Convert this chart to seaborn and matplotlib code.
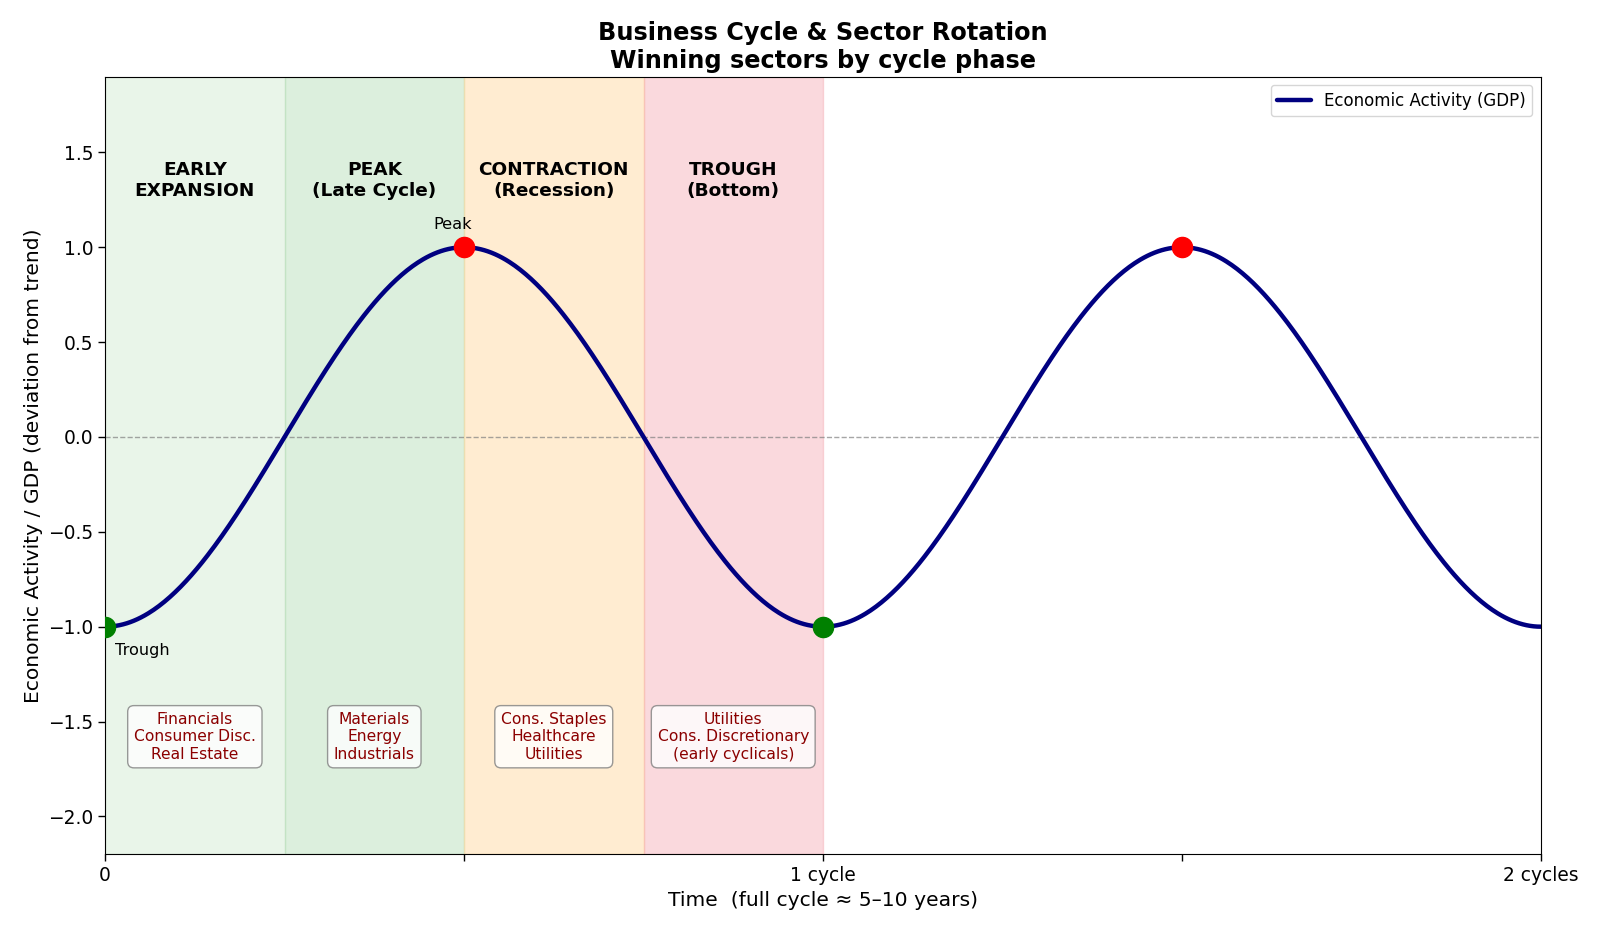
import numpy as np
import pandas as pd
import seaborn as sns
import matplotlib.pyplot as plt

# phases of one cycle (in units of pi)
phase_names = ["EARLY\nEXPANSION", "PEAK\n(Late Cycle)", "CONTRACTION\n(Recession)", "TROUGH\n(Bottom)"]
phase_start = [0.0, 0.5, 1.0, 1.5]
phase_end = [0.5, 1.0, 1.5, 2.0]
phase_colors = ["#c8e6c9", "#a5d6a7", "#ffd699", "#f4a6ae"]
phase_alpha = [0.4, 0.38, 0.45, 0.42]
sectors = ["Financials\nConsumer Disc.\nReal Estate",
           "Materials\nEnergy\nIndustrials",
           "Cons. Staples\nHealthcare\nUtilities",
           "Utilities\nCons. Discretionary\n(early cyclicals)"]

# the GDP curve: two full cycles
t = np.linspace(0, 4 * np.pi, 800)
gdp = -np.cos(t)
df = pd.DataFrame({"t": t, "gdp": gdp})

peaks_x = [np.pi, 3 * np.pi]
peaks_y = [1.0, 1.0]
troughs_x = [0.0, 2 * np.pi]
troughs_y = [-1.0, -1.0]

tick_pos = [0, np.pi, 2 * np.pi, 3 * np.pi, 4 * np.pi]
tick_lab = ["0", "", "1 cycle", "", "2 cycles"]

sns.set_style("white")
plt.rcParams["font.family"] = ["DejaVu Sans"]
plt.rcParams["text.color"] = "black"
plt.rcParams["axes.labelcolor"] = "black"
plt.rcParams["xtick.color"] = "black"
plt.rcParams["ytick.color"] = "black"
fig, ax = plt.subplots(figsize=(16, 9.33), dpi=100)

for i in range(4):
    ax.axvspan(phase_start[i] * np.pi, phase_end[i] * np.pi,
               color=phase_colors[i], alpha=phase_alpha[i], lw=1)
    mid = (phase_start[i] + phase_end[i]) / 2 * np.pi
    ax.text(mid, 1.35, phase_names[i], ha="center", va="center",
            fontsize=13.3, fontweight="bold")
    ax.text(mid, -1.58, sectors[i], ha="center", va="center",
            fontsize=11.2, color="#8b0000",
            bbox=dict(boxstyle="round,pad=0.4", fc="white", ec="gray", alpha=0.8))

ax.axhline(0, color="gray", ls="--", lw=1, alpha=0.7)
sns.lineplot(data=df, x="t", y="gdp", ax=ax, color="navy", lw=3.2,
             label="Economic Activity (GDP)")
ax.plot(peaks_x, peaks_y, "o", color="red", ms=14.5, zorder=5)
ax.plot(troughs_x, troughs_y, "o", color="green", ms=14.5, zorder=5)
ax.annotate("Peak", (np.pi, 1.0), xytext=(-8, 13), textcoords="offset points",
            ha="center", fontsize=11.6)
ax.annotate("Trough", (0, -1.0), xytext=(7, -17), textcoords="offset points",
            ha="left", va="center", fontsize=11.6)

ax.set_xlim(0, 4 * np.pi)
ax.set_ylim(-2.2, 1.9)
ax.set_xticks(tick_pos)
ax.set_xticklabels(tick_lab, fontsize=13.4)
ax.tick_params(axis="y", labelsize=13.4)
ax.tick_params(axis="both", length=5, width=1, direction="out", bottom=True, left=True)
ax.set_yticks([-2.0, -1.5, -1.0, -0.5, 0.0, 0.5, 1.0, 1.5])
ax.set_xlabel("Time  (full cycle \u2248 5\u201310 years)", fontsize=14.6)
ax.set_ylabel("Economic Activity / GDP (deviation from trend)", fontsize=14.6)
ax.set_title("Business Cycle & Sector Rotation\nWinning sectors by cycle phase",
             fontsize=17.3, fontweight="bold")
ax.legend(loc="upper right", fontsize=12)
for s in ax.spines.values():
    s.set_color("black")

fig.subplots_adjust(left=0.0657, right=0.963, top=0.918, bottom=0.0843)
plt.savefig("out.png", dpi=100)
